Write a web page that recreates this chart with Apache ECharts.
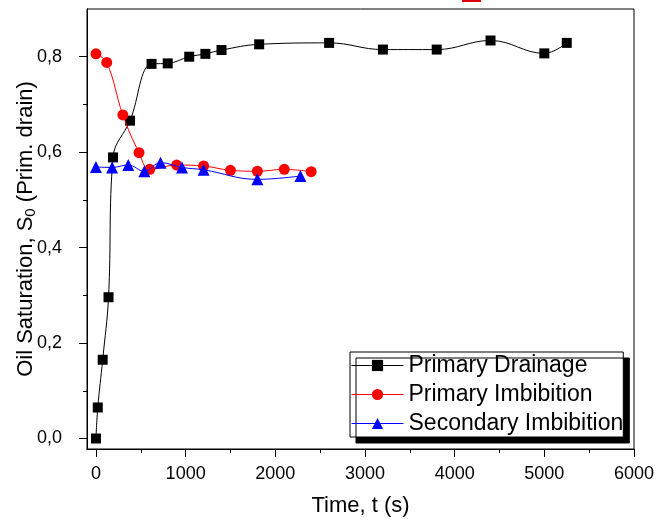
<!DOCTYPE html>
<html>
<head>
<meta charset="utf-8">
<script src="https://cdn.jsdelivr.net/npm/echarts@6/dist/echarts.min.js"></script>
<style>
html,body{margin:0;padding:0;background:#fff;}
#chart{width:657px;height:519px;}
</style>
</head>
<body>
<div id="chart"></div>
<script>
// ---- data ----
var drainageT = [0, 20, 75, 140, 190, 380, 620, 800, 1040, 1220, 1400, 1820, 2600, 3200, 3800, 4400, 5000, 5250];
var drainageS = [0.000, 0.065, 0.165, 0.296, 0.589, 0.666, 0.785, 0.786, 0.800, 0.806, 0.814, 0.826, 0.829, 0.815, 0.815, 0.834, 0.807, 0.829];

var primImbT = [0, 120, 300, 480, 600, 900, 1200, 1500, 1800, 2100, 2400];
var primImbS = [0.806, 0.788, 0.678, 0.599, 0.564, 0.573, 0.571, 0.562, 0.560, 0.564, 0.559];

var secImbT = [0, 180, 360, 540, 720, 960, 1200, 1800, 2280];
var secImbS = [0.569, 0.568, 0.573, 0.560, 0.578, 0.568, 0.563, 0.543, 0.550];

var xMajorTicks = [0, 1000, 2000, 3000, 4000, 5000, 6000];
var xMinorTicks = [500, 1500, 2500, 3500, 4500, 5500];
var yMajorTicks = [0.0, 0.2, 0.4, 0.6, 0.8];
var yMinorTicks = [0.1, 0.3, 0.5, 0.7];

var seriesNames = ['Primary Drainage', 'Primary Imbibition', 'Secondary Imbibition'];

function pairs(xs, ys) { return xs.map(function (x, i) { return [x, ys[i]]; }); }

var FONT = '"Liberation Sans", Arial, sans-serif';
var chart = echarts.init(document.getElementById('chart'), null, {renderer: 'canvas'});

var xBase = {
  type: 'value', min: -100, max: 6000, splitLine: {show: false},
  axisLine: {show: true, onZero: false, lineStyle: {color: '#000', width: 1}}
};
var yBase = {
  type: 'value', min: -0.022, max: 0.9, splitLine: {show: false},
  axisLine: {show: true, onZero: false, lineStyle: {color: '#000', width: 1}}
};

var option = {
  backgroundColor: '#fff',
  animation: false,
  grid: {left: 87, right: 23, top: 9, bottom: 70, show: true, borderColor: '#000', borderWidth: 1,
         backgroundColor: 'transparent', containLabel: false, outerBoundsMode: 'none'},
  xAxis: [
    Object.assign({}, xBase, {
      name: 'Time, t (s)', nameLocation: 'middle', nameGap: 46, nameMoveOverlap: false,
      nameTextStyle: {fontFamily: FONT, fontSize: 22, color: '#000'},
      axisTick: {show: true, inside: false, length: 8, lineStyle: {color: '#000'}, customValues: xMajorTicks},
      axisLabel: {show: true, margin: 16, fontFamily: FONT, fontSize: 18, color: '#000', customValues: xMajorTicks,
                  formatter: function (v) { return String(v); }}
    }),
    Object.assign({}, xBase, {
      position: 'bottom',
      axisTick: {show: true, inside: false, length: 4, lineStyle: {color: '#000'}, customValues: xMinorTicks},
      axisLabel: {show: false}
    })
  ],
  yAxis: [
    Object.assign({}, yBase, {
      name: '{a|Oil Saturation, S}{b|0}{a| (Prim. drain)}',
      nameLocation: 'middle', nameGap: 49, nameRotate: 90, nameMoveOverlap: false,
      nameTextStyle: {
        fontFamily: FONT, fontSize: 22, color: '#000',
        rich: {
          a: {fontFamily: FONT, fontSize: 22, color: '#000'},
          b: {fontFamily: FONT, fontSize: 15, color: '#000', padding: [9, 0, 0, 0]}
        }
      },
      axisTick: {show: true, inside: false, length: 8, lineStyle: {color: '#000'}, customValues: yMajorTicks},
      axisLabel: {
        show: true, margin: 25, fontFamily: FONT, fontSize: 18, color: '#000', customValues: yMajorTicks,
        formatter: function (v) { return v.toFixed(1).replace('.', ','); }
      }
    }),
    Object.assign({}, yBase, {
      position: 'left',
      axisTick: {show: true, inside: false, length: 4, lineStyle: {color: '#000'}, customValues: yMinorTicks},
      axisLabel: {show: false}
    })
  ],
  legend: {
    orient: 'vertical', left: 350, top: 352,
    data: seriesNames,
    itemWidth: 52, itemHeight: 14, itemGap: 6,
    padding: [2, 0, 2, 1],
    backgroundColor: '#fff', borderColor: '#000', borderWidth: 1,
    shadowColor: '#000', shadowBlur: 0, shadowOffsetX: 6, shadowOffsetY: 6,
    lineStyle: {width: 1},
    textStyle: {fontFamily: FONT, fontSize: 23, color: '#000', lineHeight: 22}
  },
  graphic: [
    {type: 'rect', left: 462, top: 0, shape: {width: 19, height: 2}, style: {fill: '#e00000'}}
  ],
  series: [
    {
      name: seriesNames[0], type: 'line', xAxisIndex: 0, yAxisIndex: 0,
      data: pairs(drainageT, drainageS), smooth: 0.4,
      symbol: 'rect', symbolSize: 10,
      lineStyle: {color: '#000', width: 1}, itemStyle: {color: '#000'}, z: 3
    },
    {
      name: seriesNames[1], type: 'line', xAxisIndex: 0, yAxisIndex: 0,
      data: pairs(primImbT, primImbS), smooth: 0.4,
      symbol: 'circle', symbolSize: 11,
      lineStyle: {color: '#ff0000', width: 1}, itemStyle: {color: '#ff0000'}, z: 4
    },
    {
      name: seriesNames[2], type: 'line', xAxisIndex: 0, yAxisIndex: 0,
      data: pairs(secImbT, secImbS), smooth: 0.4,
      symbol: 'triangle', symbolSize: 12,
      lineStyle: {color: '#0000ff', width: 1}, itemStyle: {color: '#0000ff'}, z: 5
    }
  ]
};
chart.setOption(option);
</script>
</body>
</html>
